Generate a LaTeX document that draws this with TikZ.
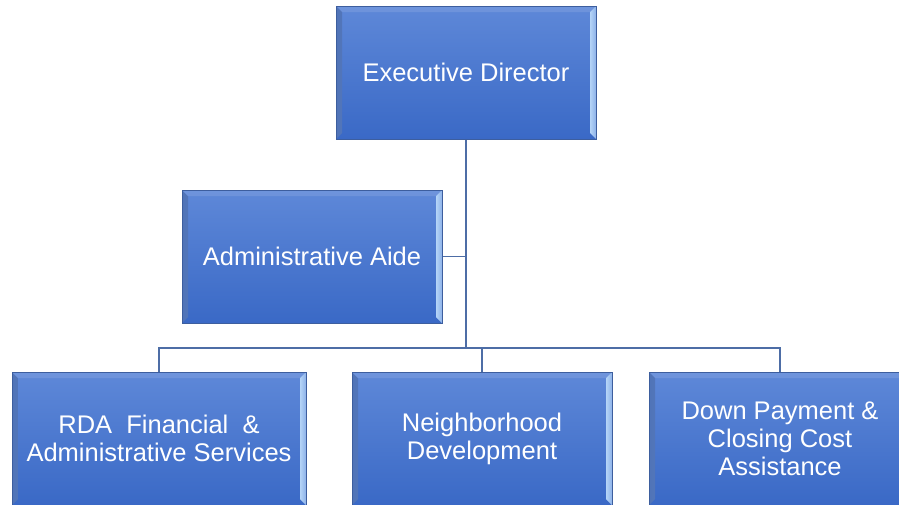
\documentclass[tikz,border=0pt]{standalone}
\usepackage{fontspec}
\setmainfont{Liberation Sans}
\usetikzlibrary{calc}

\definecolor{boxtop}{HTML}{5E88D8}
\definecolor{boxbot}{HTML}{3A69C6}
\definecolor{boxrim}{HTML}{3D5E9E}
\definecolor{bevel}{HTML}{B4D4F7}
\definecolor{linkcol}{HTML}{4D6DA6}

\begin{document}
\begin{tikzpicture}[x=1pt,y=-1pt,
  post/.style={draw=boxrim, line width=1pt, top color=boxtop, bottom color=boxbot,
    text=white, align=center, inner sep=0pt, minimum height=133pt,
    font=\fontsize{25.5}{28}\selectfont,
    path picture={
      \shade[left color=boxtop!85!black, right color=bevel]
        (path picture bounding box.north west)
        -- ([xshift=6pt,yshift=-6pt]path picture bounding box.north west)
        -- ([xshift=6pt,yshift=6pt]path picture bounding box.south west)
        -- (path picture bounding box.south west) -- cycle;
      \shade[left color=bevel, right color=bevel!55!boxtop]
        (path picture bounding box.north east)
        -- ([xshift=-6pt,yshift=-6pt]path picture bounding box.north east)
        -- ([xshift=-6pt,yshift=6pt]path picture bounding box.south east)
        -- (path picture bounding box.south east) -- cycle;
      \fill[boxtop!70!white, opacity=.35] (path picture bounding box.north west)
        -- ([xshift=6pt,yshift=-6pt]path picture bounding box.north west)
        -- ([xshift=-6pt,yshift=-6pt]path picture bounding box.north east)
        -- (path picture bounding box.north east) -- cycle;
    }},
  link/.style={draw=linkcol, line width=1.2pt}]

\useasboundingbox (0,0) rectangle (899,504);
\clip (0,0) rectangle (899,504);

% boxes
\node[post, minimum width=260pt] (exec) at (466,72.5)  {Executive Director};
\node[post, minimum width=260pt] (aide) at (312,256.5) {Administrative Aide};
\node[post, minimum width=294pt] (rda)  at (159,438.5) {RDA~ Financial~ \&\\Administrative Services};
\node[post, minimum width=260pt] (nbd)  at (482,438.5) {Neighborhood\\Development};
\node[post, minimum width=262pt] (dpa)  at (780,438.5) {Down Payment \&\\Closing Cost\\Assistance};

\coordinate (bus) at (466,348);

% connectors
\path[link]
  (exec.south) -- (exec.south |- bus)
  (aide.east)  -- (aide.east -| exec.south)
  (rda.north)  |- (bus) -| (dpa.north)
  (nbd.north)  -- (nbd.north |- bus);
\end{tikzpicture}
\end{document}
